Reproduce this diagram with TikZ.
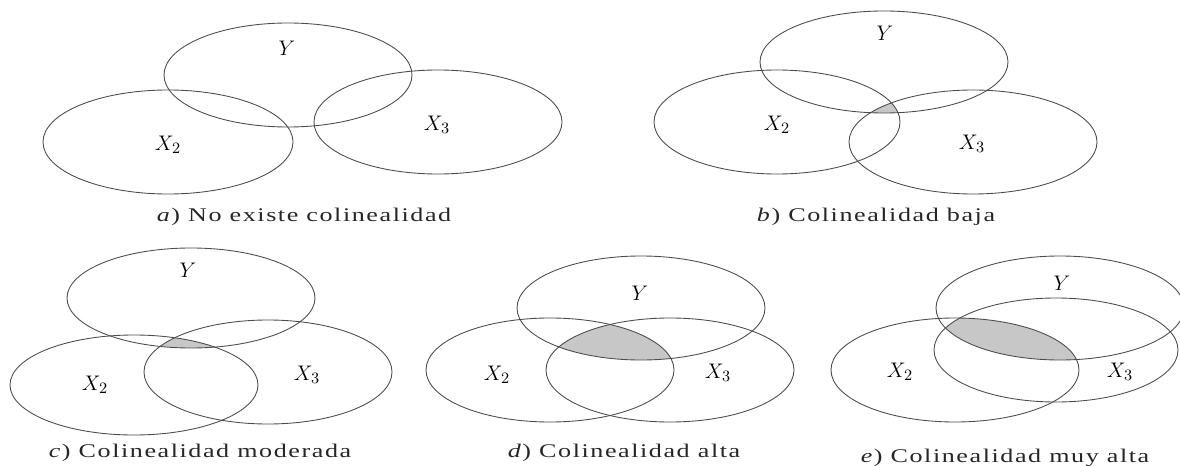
\documentclass[tikz,border=0pt]{standalone}
\usepackage{fontspec}
\usepackage{graphicx}
\newfontfamily\capfont[LetterSpace=6]{Liberation Serif}
\newcommand\captext[1]{\scalebox{1.35}[1]{#1}}
\begin{document}
\begin{tikzpicture}[x=0.02cm,y=-0.02cm,
  venn/.style={draw=black!70,line width=0.5pt},
  common/.style={fill=black!22},
  varlabel/.style={inner sep=0pt,font=\fontsize{13}{15}\selectfont},
  caption/.style={inner sep=0pt,text=black!85,font=\capfont\fontsize{11}{13}\selectfont}]
\useasboundingbox (0,0) rectangle (1180,466);
\clip (0,0) rectangle (1180,466);

% (a) no overlap between X2 and X3
\draw[venn] (288,75) ellipse [x radius=124,y radius=52];
\draw[venn] (168,142) ellipse [x radius=125,y radius=52];
\draw[venn] (438,122) ellipse [x radius=124,y radius=52];
\node[varlabel] (aY) at (287,48) {$Y$};
\node[varlabel] (aX2) at (168,145) {$X_2$};
\node[varlabel] (aX3) at (437,125) {$X_3$};
\node[caption] (acap) at (304,217) {\captext{\textit{a}) No existe colinealidad}};

% (b) small common area
\begin{scope}
  \clip (884,62) ellipse [x radius=124,y radius=51];
  \clip (777,122) ellipse [x radius=123,y radius=52];
  \fill[common] (973,142) ellipse [x radius=124,y radius=52];
\end{scope}
\draw[venn] (884,62) ellipse [x radius=124,y radius=51];
\draw[venn] (777,122) ellipse [x radius=123,y radius=52];
\draw[venn] (973,142) ellipse [x radius=124,y radius=52];
\node[varlabel] (bY) at (885,33) {$Y$};
\node[varlabel] (bX2) at (777,125) {$X_2$};
\node[varlabel] (bX3) at (972,144) {$X_3$};
\node[caption] (bcap) at (876,217) {\captext{\textit{b}) Colinealidad baja}};

% (c) moderate common area
\begin{scope}
  \clip (191,298) ellipse [x radius=124,y radius=50];
  \clip (134,385) ellipse [x radius=124,y radius=50];
  \fill[common] (268,372) ellipse [x radius=124,y radius=52];
\end{scope}
\draw[venn] (191,298) ellipse [x radius=124,y radius=50];
\draw[venn] (134,385) ellipse [x radius=124,y radius=50];
\draw[venn] (268,372) ellipse [x radius=124,y radius=52];
\node[varlabel] (cY) at (188,270) {$Y$};
\node[varlabel] (cX2) at (95,385) {$X_2$};
\node[varlabel] (cX3) at (307,375) {$X_3$};
\node[caption] (ccap) at (200,453) {\captext{\textit{c}) Colinealidad moderada}};

% (d) large common area
\begin{scope}
  \clip (641,308) ellipse [x radius=124,y radius=52];
  \clip (550,370) ellipse [x radius=124,y radius=52];
  \fill[common] (670,370) ellipse [x radius=124,y radius=52];
\end{scope}
\draw[venn] (641,308) ellipse [x radius=124,y radius=52];
\draw[venn] (550,370) ellipse [x radius=124,y radius=52];
\draw[venn] (670,370) ellipse [x radius=124,y radius=52];
\node[varlabel] (dY) at (640,293) {$Y$};
\node[varlabel] (dX2) at (497,375) {$X_2$};
\node[varlabel] (dX3) at (718,373) {$X_3$};
\node[caption] (dcap) at (624,453) {\captext{\textit{d}) Colinealidad alta}};

% (e) very large common area
\begin{scope}
  \clip (1060,308) ellipse [x radius=124,y radius=52];
  \clip (955,370) ellipse [x radius=124,y radius=52];
  \fill[common] (1056,350) ellipse [x radius=122,y radius=52];
\end{scope}
\draw[venn] (1060,308) ellipse [x radius=124,y radius=52];
\draw[venn] (955,370) ellipse [x radius=124,y radius=52];
\draw[venn] (1056,350) ellipse [x radius=122,y radius=52];
\node[varlabel] (eY) at (1062,283) {$Y$};
\node[varlabel] (eX2) at (900,372) {$X_2$};
\node[varlabel] (eX3) at (1120,372) {$X_3$};
\node[caption] (ecap) at (1005,458) {\captext{\textit{e}) Colinealidad muy alta}};
\end{tikzpicture}
\end{document}
